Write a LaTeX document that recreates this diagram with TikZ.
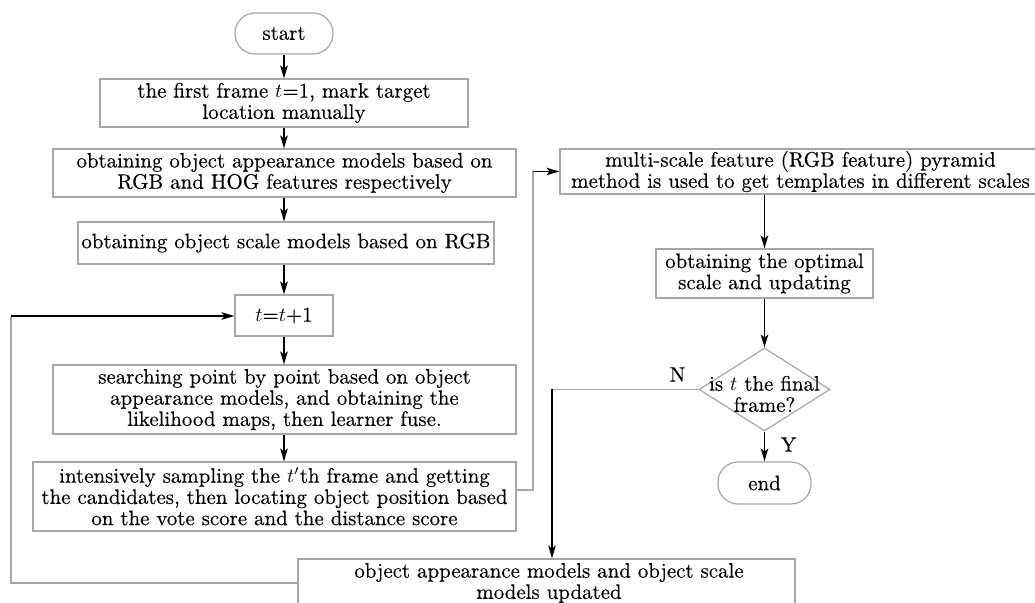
\documentclass[tikz,border=0pt]{standalone}
\usepackage{fontspec}
\setmainfont{Latin Modern Roman}[FakeBold=0.35]
\usetikzlibrary{arrows.meta,shapes.geometric}
\begin{document}
\begin{tikzpicture}[x=0.5pt,y=-0.5pt,
  every node/.style={font=\fontsize{10.45}{10.6}\selectfont, align=center, inner sep=0pt},
  box/.style={draw=gray!70, line width=0.6pt, rectangle},
  term/.style={draw=gray!70, line width=0.6pt, rectangle, rounded corners=10pt},
  arr/.style={black, line width=0.7pt, -{Stealth[length=6.5pt,width=3.8pt,inset=1.6pt]}},
  gline/.style={draw=gray!70, line width=0.6pt}]
\useasboundingbox (0,0) rectangle (1035,603);
% left column
\node[term, minimum width=49pt, minimum height=20.5pt] (start) at (284,33.5) {start};
\node[box, minimum width=184pt, minimum height=24pt] (b1) at (284,103)
  {the first frame $t$=1, mark target\\location manually};
\node[box, minimum width=231.5pt, minimum height=24pt] (b2) at (284.5,173)
  {obtaining object appearance models based on\\RGB and HOG features respectively};
\node[box, minimum width=208pt, minimum height=21pt] (b3) at (286,243)
  {obtaining object scale models based on RGB};
\node[box, minimum width=49pt, minimum height=20.5pt] (tb) at (284,315.5) {$t$=$t$+1};
\node[box, minimum width=231.5pt, minimum height=34.5pt] (b4) at (284.5,399.5)
  {searching point by point based on object\\appearance models, and obtaining the\\likelihood maps, then learner fuse.};
\node[box, minimum width=241.5pt, minimum height=34.5pt] (b5) at (274.5,496.5)
  {intensively sampling the $t'$th frame and getting\\the candidates, then locating object position based\\on the vote score and the distance score};
\node[box, minimum width=248.5pt, minimum height=30pt] (bot) at (546.5,589) {};
\node (bottxt) at (549,583)
  {object appearance models and object scale\\models updated};
% right column
\node[box, minimum width=240.5pt, minimum height=22.5pt] (multi) at (800.5,171.5)
  {multi-scale feature (RGB feature) pyramid\\method is used to get templates in different scales};
\node[box, minimum width=108.5pt, minimum height=24.5pt] (opt) at (764.5,273.5)
  {obtaining the optimal\\scale and updating};
\node[diamond, draw=gray!70, line width=0.6pt, minimum width=65.5pt, minimum height=41.5pt] (dia) at (764.5,389.5) {};
\node (dtext) at (764.5,394) {is $t$ the final\\frame?};
\node[term, minimum width=46.5pt, minimum height=21pt] (end) at (764.5,483) {end};
\node (nlab) at (677.5,374.5) {N};
\node (ylab) at (788.5,444.5) {Y};
% coordinates
\coordinate (lp) at (11,316);
\coordinate (rj) at (533,490);
\coordinate (nj) at (552,389.5);
% connectors
\draw[arr] (start) -- (b1);
\draw[arr] (b1.south) -- (b1.south |- b2.north);
\draw[arr] (b2.south -| tb.south) -- (tb.south |- b3.north);
\draw[arr] (b3.south -| tb.south) -- (tb.north);
\draw[arr] (tb.south) -- (tb.south |- b4.north);
\draw[arr] (b4.south -| tb.south) -- (tb.south |- b5.north);
\draw[gline] (bot.west |- 0,583) -- (lp |- 0,583) -- (lp);
\draw[arr] (lp) -- (tb.west |- lp);
\draw[gline] (b5.east |- rj) -- (rj) -- (rj |- multi.west);
\draw[arr] (rj |- multi.west) -- (multi.west);
\draw[arr] (multi.south -| opt.north) -- (opt.north);
\draw[arr] (opt.south) -- (dia.north);
\draw[arr] (dia.south) -- (end.north);
\draw[gline] (dia.west) -- (nj);
\draw[arr] (nj) -- (nj |- bot.north);
\end{tikzpicture}
\end{document}
